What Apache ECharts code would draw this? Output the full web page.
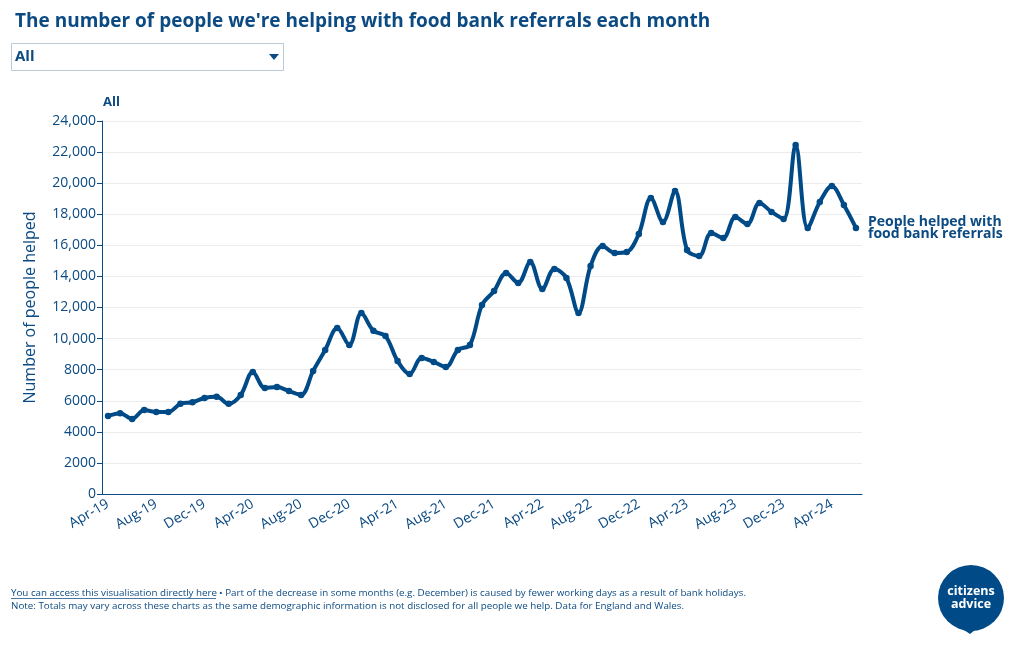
<!DOCTYPE html>
<html><head><meta charset="utf-8">
<script src="https://cdn.jsdelivr.net/npm/echarts@6/dist/echarts.min.js"></script>
<style>html,body{margin:0;padding:0;background:#fff}#c{width:1020px;height:650px}</style>
</head><body><div id="c"></div>
<script>
const months = ['Apr-19','May-19','Jun-19','Jul-19','Aug-19','Sep-19','Oct-19','Nov-19','Dec-19',
'Jan-20','Feb-20','Mar-20','Apr-20','May-20','Jun-20','Jul-20','Aug-20','Sep-20','Oct-20','Nov-20','Dec-20',
'Jan-21','Feb-21','Mar-21','Apr-21','May-21','Jun-21','Jul-21','Aug-21','Sep-21','Oct-21','Nov-21','Dec-21',
'Jan-22','Feb-22','Mar-22','Apr-22','May-22','Jun-22','Jul-22','Aug-22','Sep-22','Oct-22','Nov-22','Dec-22',
'Jan-23','Feb-23','Mar-23','Apr-23','May-23','Jun-23','Jul-23','Aug-23','Sep-23','Oct-23','Nov-23','Dec-23',
'Jan-24','Feb-24','Mar-24','Apr-24','May-24','Jun-24'];
const peopleHelped = [5020,5200,4830,5400,5280,5280,5800,5900,6180,
6250,5800,6370,7850,6820,6880,6620,6370,7920,9270,10680,9590,
11650,10500,10170,8560,7720,8750,8500,8170,9270,9590,12160,13060,
14220,13580,14930,13190,14480,13900,11650,14670,15960,15510,15570,16730,
19050,17500,19500,15700,15320,16800,16470,17820,17370,18730,18150,17700,
22460,17120,18790,19820,18600,17120];
const yTicks = {min:0, max:24000, step:2000};

const C = '#0b4a82';
const chart = echarts.init(document.getElementById('c'));
chart.setOption({
  animation:false,
  textStyle:{fontFamily:'Open Sans'},
  title:{text:"The number of people we're helping with food bank referrals each month",
    left:10, top:7, textStyle:{fontSize:19, fontWeight:'bold', color:C, fontFamily:'Open Sans'}},
  grid:{left:102, right:158, top:121, bottom:156},
  xAxis:{type:'category', data:months, boundaryGap:true,
    axisLine:{lineStyle:{color:C, width:1}},
    axisTick:{alignWithLabel:true, interval:0, length:5, lineStyle:{color:C}},
    axisLabel:{interval:3, rotate:30, fontSize:14, color:C, margin:9},
    splitLine:{show:false}},
  yAxis:{type:'value', min:yTicks.min, max:yTicks.max, interval:yTicks.step,
    name:'Number of people helped', nameLocation:'middle', nameGap:64, nameRotate:90,
    nameTextStyle:{fontSize:16, color:C},
    axisLine:{show:true, lineStyle:{color:C}},
    axisTick:{show:true, length:5, lineStyle:{color:C}},
    axisLabel:{fontSize:14, color:C, margin:6,
      formatter:v=> v>=10000 ? v.toLocaleString('en-US') : String(v)},
    splitLine:{lineStyle:{color:'#ececec'}}},
  series:[{type:'line', data:peopleHelped, smooth:0.35,
    symbol:'circle', symbolSize:6.5, showSymbol:true,
    lineStyle:{color:'#004b87', width:4}, itemStyle:{color:'#004b87'},
    endLabel:{show:true, formatter:'People helped with\nfood bank referrals', distance:12,
      fontSize:14, fontWeight:'bold', color:C, lineHeight:12, fontFamily:'Open Sans'}}],
  graphic:[
    {type:'rect', shape:{x:11.5,y:43.5,width:272,height:27}, style:{fill:'#fff', stroke:'#b9c9d8', lineWidth:1}},
    {type:'text', x:15, y:57, style:{text:'All', fontSize:15, fontWeight:'bold', fill:C, fontFamily:'Open Sans', textVerticalAlign:'middle'}},
    {type:'polygon', shape:{points:[[269,54],[279,54],[274,60]]}, style:{fill:C}},
    {type:'text', x:103, y:102, style:{text:'All', fontSize:13, fontWeight:'bold', fill:C, fontFamily:'Open Sans', textVerticalAlign:'middle'}},
    {type:'text', x:11, y:593, style:{text:'You can access this visualisation directly here', fontSize:9.8, fill:C, fontFamily:'Open Sans', textVerticalAlign:'middle'}},
    {type:'rect', shape:{x:11,y:598,width:205,height:0.8}, style:{fill:C}},
    {type:'text', x:219, y:593, style:{text:'• Part of the decrease in some months (e.g. December) is caused by fewer working days as a result of bank holidays.', fontSize:9.8, fill:C, fontFamily:'Open Sans', textVerticalAlign:'middle'}},
    {type:'text', x:11, y:606, style:{text:'Note: Totals may vary across these charts as the same demographic information is not disclosed for all people we help. Data for England and Wales.', fontSize:9.8, fill:C, fontFamily:'Open Sans', textVerticalAlign:'middle'}},
    {type:'circle', shape:{cx:971, cy:598, r:33}, style:{fill:'#004b87'}},
    {type:'polygon', shape:{points:[[958,626],[980,626],[970,634]]}, style:{fill:'#004b87'}},
    {type:'text', x:971, y:591, style:{text:'citizens', fontSize:12.5, fontWeight:'bold', fill:'#fff', fontFamily:'Open Sans', align:'center', textVerticalAlign:'middle'}},
    {type:'text', x:971, y:604, style:{text:'advice', fontSize:12.5, fontWeight:'bold', fill:'#fff', fontFamily:'Open Sans', align:'center', textVerticalAlign:'middle'}}
  ]
});
</script></body></html>
